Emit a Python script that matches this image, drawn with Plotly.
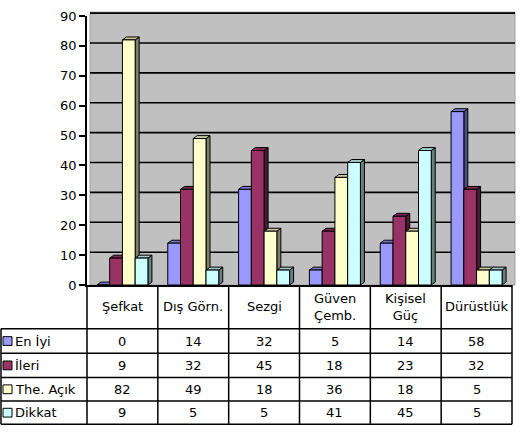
import plotly.graph_objects as go

# ---------------- data ----------------
categories = ["Şefkat", "Dış Görn.", "Sezgi", "Güven<br>Çemb.", "Kişisel<br>Güç", "Dürüstlük"]
series_names = ["En İyi", "İleri", "The. Açık", "Dikkat"]
en_iyi = [0, 14, 32, 5, 14, 58]
ileri = [9, 32, 45, 18, 23, 32]
the_acik = [82, 49, 18, 36, 18, 5]
dikkat = [9, 5, 5, 41, 45, 5]
y_ticks = [0, 10, 20, 30, 40, 50, 60, 70, 80, 90]

series_values = [en_iyi, ileri, the_acik, dikkat]

# ---------------- styles ----------------
front_colors = ["#9999FF", "#993366", "#FFFFCC", "#CCFFFF"]
top_colors = ["#7A7ACC", "#7A2952", "#CCCCA3", "#A3CCCC"]
side_colors = ["#4D4D80", "#4D1A33", "#808066", "#668080"]
FONT = "DejaVu Sans"
FS = 13

W, H = 522, 433
L, R, T, B = 87, 10, 9, 148
pw, ph = W - L - R, H - T - B


def X(px):
    return (px - L) / pw


def Y(py):
    return (H - B - py) / ph


n_cat = len(categories)
n_ser = len(series_names)
bargap = 0.28
bw = (1 - bargap) / n_ser
dx = 4 / (pw / n_cat)          # depth in x data units
dy = 3 / (ph / 90)             # depth in y data units

fig = go.Figure()
xs = list(range(n_cat))
for i, (name, vals) in enumerate(zip(series_names, series_values)):
    fig.add_trace(go.Bar(
        x=xs, y=vals, name=name,
        marker=dict(color=front_colors[i], line=dict(color="black", width=1)),
        showlegend=False, hoverinfo="skip",
    ))

shapes = []
# back wall
shapes.append(dict(type="rect", xref="paper", yref="paper",
                   x0=X(90), x1=X(515), y0=Y(285), y1=Y(5),
                   fillcolor="#C0C0C0", line=dict(color="#A0A0A0", width=1), layer="below"))
# gridlines on wall (shifted by depth)
for v in y_ticks[1:]:
    yp = v / 90 + 3 / ph
    shapes.append(dict(type="line", xref="paper", yref="paper",
                       x0=X(90), x1=X(515), y0=yp, y1=yp,
                       line=dict(color="black", width=1.6), layer="below"))

# 3D side and top faces of bars
for c in range(n_cat):
    for i in range(n_ser):
        v = series_values[i][c]
        cx = c - (1 - bargap) / 2 + (i + 0.5) * bw
        x0, x1 = cx - bw / 2, cx + bw / 2
        side = f"M {x1},0 L {x1+dx},{dy} L {x1+dx},{v+dy} L {x1},{v} Z"
        top = f"M {x0},{v} L {x0+dx},{v+dy} L {x1+dx},{v+dy} L {x1},{v} Z"
        shapes.append(dict(type="path", xref="x", yref="y", path=side,
                           fillcolor=side_colors[i], line=dict(color="black", width=1), layer="between"))
        shapes.append(dict(type="path", xref="x", yref="y", path=top,
                           fillcolor=top_colors[i], line=dict(color="black", width=1), layer="between"))

# ---------------- data table ----------------
row_edges = [330, 355, 380, 404, 428]
for py in row_edges:
    shapes.append(dict(type="line", xref="paper", yref="paper",
                       x0=X(1), x1=1, y0=Y(py), y1=Y(py),
                       line=dict(color="black", width=1.5)))
for k in range(n_cat + 1):
    shapes.append(dict(type="line", xref="paper", yref="paper",
                       x0=k / n_cat, x1=k / n_cat, y0=Y(285), y1=Y(428),
                       line=dict(color="black", width=1.5)))
shapes.append(dict(type="line", xref="paper", yref="paper",
                   x0=X(1), x1=X(1), y0=Y(330), y1=Y(428),
                   line=dict(color="black", width=1.5)))

annotations = []
for c, cat in enumerate(categories):
    annotations.append(dict(xref="paper", yref="paper", x=(c + 0.5) / n_cat, y=Y(307.5),
                            text=cat, showarrow=False, xanchor="center", yanchor="middle",
                            font=dict(family=FONT, size=FS, color="black")))
for i, name in enumerate(series_names):
    top_py, bot_py = row_edges[i], row_edges[i + 1]
    mid = (top_py + bot_py) / 2
    shapes.append(dict(type="rect", xref="paper", yref="paper",
                       x0=X(3), x1=X(12), y0=Y(mid + 4.5), y1=Y(mid - 4.5),
                       fillcolor=front_colors[i], line=dict(color="black", width=1)))
    annotations.append(dict(xref="paper", yref="paper", x=X(13), y=Y(mid),
                            text=name, showarrow=False, xanchor="left", yanchor="middle",
                            font=dict(family=FONT, size=FS, color="black")))
    for c in range(n_cat):
        annotations.append(dict(xref="paper", yref="paper", x=(c + 0.5) / n_cat, y=Y(mid),
                                text=str(series_values[i][c]), showarrow=False,
                                xanchor="center", yanchor="middle",
                                font=dict(family=FONT, size=FS, color="black")))

fig.update_layout(
    width=W, height=H,
    margin=dict(l=L, r=R, t=T, b=B, pad=0),
    paper_bgcolor="white", plot_bgcolor="white",
    barmode="group", bargap=bargap, bargroupgap=0,
    showlegend=False,
    font=dict(family=FONT, size=FS, color="black"),
    xaxis=dict(range=[-0.5, n_cat - 0.5], showticklabels=False, showgrid=False,
               zeroline=False, showline=True, linecolor="black", linewidth=1.5,
               ticks="", fixedrange=True),
    yaxis=dict(range=[0, 90], tickvals=y_ticks, showgrid=False, zeroline=False,
               showline=True, linecolor="black", linewidth=1.5,
               ticks="outside", ticklen=6, tickcolor="black", tickwidth=1.5,
               tickfont=dict(family=FONT, size=FS, color="black"), fixedrange=True),
    shapes=shapes,
    annotations=annotations,
)

fig.write_html("out.html")
